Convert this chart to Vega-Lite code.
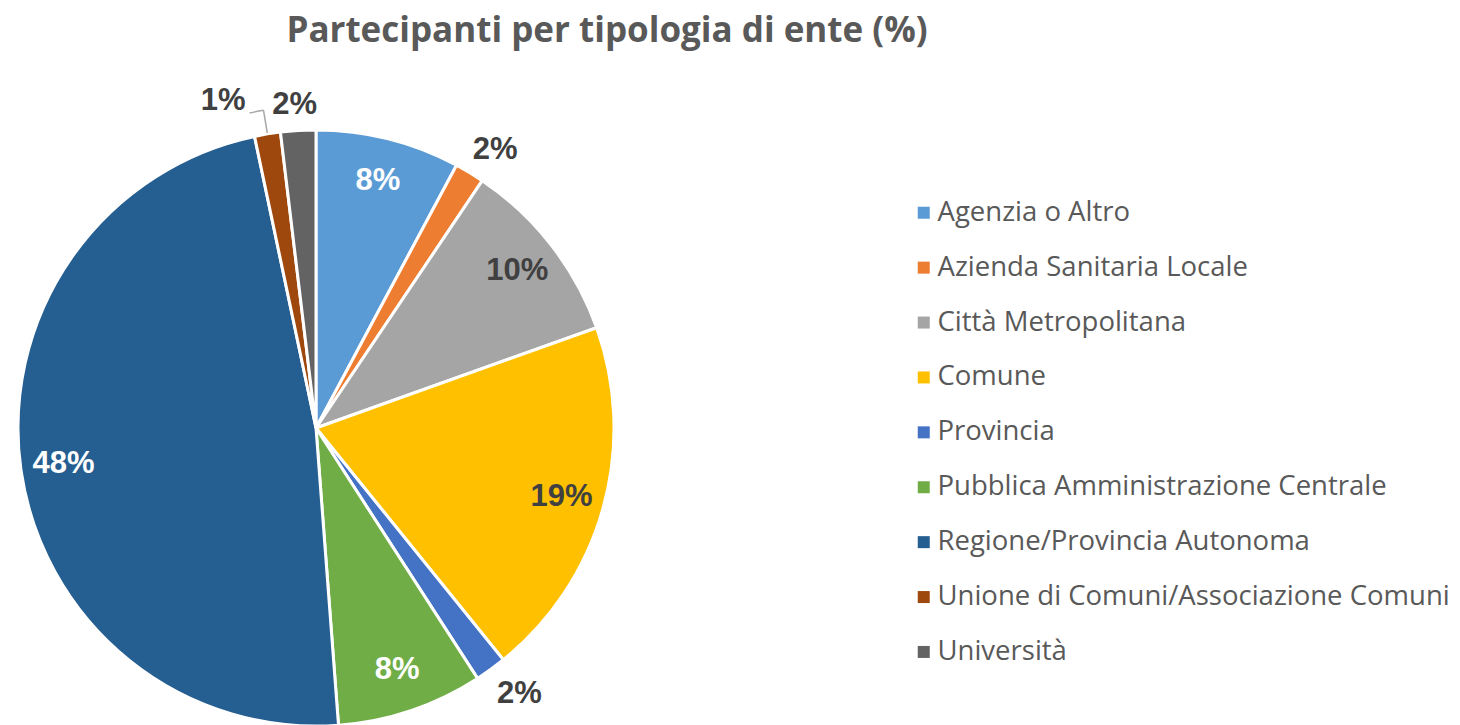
{
  "$schema": "https://vega.github.io/schema/vega-lite/v6.json",
  "width": 632,
  "height": 596,
  "autosize": {"type": "none"},
  "padding": {"left": 0, "top": 130, "right": 828, "bottom": 0},
  "background": "white",
  "title": {
    "text": "Partecipanti per tipologia di ente (%)",
    "font": "Open Sans",
    "fontSize": 35,
    "fontWeight": "bold",
    "color": "#595959",
    "anchor": "middle",
    "dx": 291,
    "offset": 24
  },
  "data": {
    "values": [
      {"name": "Agenzia o Altro", "value": 7.8, "label": "8%"},
      {"name": "Azienda Sanitaria Locale", "value": 1.6, "label": "2%"},
      {"name": "Città Metropolitana", "value": 10.1, "label": "10%"},
      {"name": "Comune", "value": 19.6, "label": "19%"},
      {"name": "Provincia", "value": 1.7, "label": "2%"},
      {"name": "Pubblica Amministrazione Centrale", "value": 7.9, "label": "8%"},
      {"name": "Regione/Provincia Autonoma", "value": 47.8, "label": "48%"},
      {"name": "Unione di Comuni/Associazione Comuni", "value": 1.4, "label": "1%"},
      {"name": "Università", "value": 1.9, "label": "2%"}
    ]
  },
  "encoding": {
    "theta": {"field": "value", "type": "quantitative", "stack": true},
    "order": {"field": "name", "type": "nominal", "sort": "ascending"}
  },
  "layer": [
    {
      "mark": {"type": "arc", "stroke": "white", "strokeWidth": 3},
      "encoding": {
        "color": {
          "field": "name",
          "type": "nominal",
          "scale": {
            "domain": ["Agenzia o Altro", "Azienda Sanitaria Locale", "Città Metropolitana", "Comune", "Provincia", "Pubblica Amministrazione Centrale", "Regione/Provincia Autonoma", "Unione di Comuni/Associazione Comuni", "Università"],
            "range": ["#5B9BD5", "#ED7D31", "#A5A5A5", "#FFC000", "#4472C4", "#70AD47", "#255E91", "#9E480E", "#636363"]
          },
          "legend": {
            "orient": "none",
            "legendX": 910,
            "legendY": 69,
            "title": null,
            "symbolType": "square",
            "symbolSize": 144,
            "symbolStrokeWidth": 0,
            "labelFont": "Open Sans",
            "labelFontSize": 27.5,
            "labelColor": "#595959",
            "labelOffset": 0,
            "labelLimit": 700,
            "rowPadding": 25.9
          }
        }
      }
    },
    {
      "mark": {"type": "arc", "radius": 322, "radius2": 299, "padAngle": 0.5, "fill": null, "stroke": "#A6A6A6", "strokeWidth": 1.5},
      "encoding": {
        "detail": {"field": "name", "type": "nominal"},
        "strokeOpacity": {
          "condition": {"test": "datum.name === 'Unione di Comuni/Associazione Comuni'", "value": 1},
          "value": 0
        }
      }
    },
    {
      "mark": {"type": "arc", "radius": 322, "radius2": 322, "padAngle": 0.0309, "thetaOffset": -0.0218, "fill": null, "stroke": "#A6A6A6", "strokeWidth": 1.5},
      "encoding": {
        "detail": {"field": "name", "type": "nominal"},
        "strokeOpacity": {
          "condition": {"test": "datum.name === 'Unione di Comuni/Associazione Comuni'", "value": 1},
          "value": 0
        }
      }
    },
    {
      "mark": {"type": "text", "radius": 255, "font": "Liberation Sans", "fontWeight": "bold", "fontSize": 31},
      "encoding": {
        "detail": {"field": "name", "type": "nominal"},
        "text": {
          "condition": {"test": "indexof(['Agenzia o Altro','Città Metropolitana','Comune','Pubblica Amministrazione Centrale','Regione/Provincia Autonoma'], datum.name) >= 0", "field": "label"},
          "value": ""
        },
        "color": {
          "condition": {"test": "indexof(['Città Metropolitana','Comune'], datum.name) >= 0", "value": "#404040"},
          "value": "white"
        }
      }
    },
    {
      "mark": {"type": "text", "radius": 330, "dx": 9, "dy": 5, "font": "Liberation Sans", "fontWeight": "bold", "fontSize": 31, "color": "#404040"},
      "encoding": {
        "detail": {"field": "name", "type": "nominal"},
        "text": {
          "condition": {"test": "datum.name === 'Azienda Sanitaria Locale'", "field": "label"},
          "value": ""
        }
      }
    },
    {
      "mark": {"type": "text", "radius": 335, "dx": 7, "dy": -5, "font": "Liberation Sans", "fontWeight": "bold", "fontSize": 31, "color": "#404040"},
      "encoding": {
        "detail": {"field": "name", "type": "nominal"},
        "text": {
          "condition": {"test": "datum.name === 'Provincia'", "field": "label"},
          "value": ""
        }
      }
    },
    {
      "mark": {"type": "text", "radius": 324, "dx": -2, "font": "Liberation Sans", "fontWeight": "bold", "fontSize": 31, "color": "#404040"},
      "encoding": {
        "detail": {"field": "name", "type": "nominal"},
        "text": {
          "condition": {"test": "datum.name === 'Università'", "field": "label"},
          "value": ""
        }
      }
    },
    {
      "mark": {"type": "text", "radius": 330, "dx": -39, "dy": -1, "font": "Liberation Sans", "fontWeight": "bold", "fontSize": 31, "color": "#404040"},
      "encoding": {
        "detail": {"field": "name", "type": "nominal"},
        "text": {
          "condition": {"test": "datum.name === 'Unione di Comuni/Associazione Comuni'", "field": "label"},
          "value": ""
        }
      }
    }
  ]
}
